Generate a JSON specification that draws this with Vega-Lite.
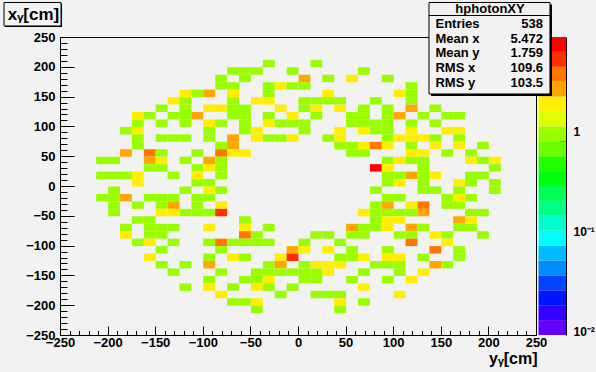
{
"$schema": "https://vega.github.io/schema/vega-lite/v6.json",
"width": 476, "height": 298,
"autosize": {"type": "none"},
"padding": {"left": 60, "top": 37, "right": 60, "bottom": 37},
"background": "#f2f2f2",
"config": {
  "view": {"stroke": "#000000", "strokeWidth": 1},
  "axis": {"labelFont": "Liberation Sans", "labelFontWeight": "bold", "labelFontSize": 13, "labelColor": "#000000", "tickColor": "#000000", "tickWidth": 1, "grid": false, "domain": false, "titleFont": "Liberation Sans", "titleFontWeight": "bold", "titleColor": "#000000", "labelFlush": false, "labelOverlap": false},
  "text": {"font": "Liberation Sans", "fontWeight": "bold", "fontSize": 13, "color": "#000000"}
},
"datasets": {
  "cells": [
    {"x":-37.5,"y":200,"n":1},{"x":12.5,"y":200,"n":1},
    {"x":-75,"y":187.5,"n":1},{"x":-62.5,"y":187.5,"n":1},{"x":-50,"y":187.5,"n":1},{"x":-12.5,"y":187.5,"n":1},{"x":62.5,"y":187.5,"n":1},
    {"x":-87.5,"y":175,"n":1},{"x":-62.5,"y":175,"n":1},{"x":0,"y":175,"n":3},{"x":25,"y":175,"n":1},{"x":50,"y":175,"n":2},{"x":87.5,"y":175,"n":1},
    {"x":-87.5,"y":162.5,"n":1},{"x":-75,"y":162.5,"n":1},{"x":-37.5,"y":162.5,"n":1},{"x":-25,"y":162.5,"n":2},{"x":-12.5,"y":162.5,"n":1},{"x":0,"y":162.5,"n":1},{"x":112.5,"y":162.5,"n":1},
    {"x":-125,"y":150,"n":2},{"x":-112.5,"y":150,"n":1},{"x":-100,"y":150,"n":3},{"x":-75,"y":150,"n":2},{"x":-37.5,"y":150,"n":1},{"x":25,"y":150,"n":2},{"x":100,"y":150,"n":2},{"x":112.5,"y":150,"n":1},
    {"x":-137.5,"y":137.5,"n":2},{"x":-125,"y":137.5,"n":1},{"x":-75,"y":137.5,"n":1},{"x":-50,"y":137.5,"n":2},{"x":-37.5,"y":137.5,"n":2},{"x":0,"y":137.5,"n":1},{"x":12.5,"y":137.5,"n":1},{"x":25,"y":137.5,"n":1},{"x":37.5,"y":137.5,"n":1},{"x":75,"y":137.5,"n":1},{"x":112.5,"y":137.5,"n":1},
    {"x":-150,"y":125,"n":1},{"x":-125,"y":125,"n":1},{"x":-100,"y":125,"n":2},{"x":-87.5,"y":125,"n":2},{"x":-75,"y":125,"n":1},{"x":-62.5,"y":125,"n":1},{"x":-25,"y":125,"n":2},{"x":0,"y":125,"n":1},{"x":12.5,"y":125,"n":2},{"x":37.5,"y":125,"n":2},{"x":62.5,"y":125,"n":1},{"x":87.5,"y":125,"n":1},{"x":112.5,"y":125,"n":3},{"x":137.5,"y":125,"n":1},
    {"x":-175,"y":112.5,"n":2},{"x":-162.5,"y":112.5,"n":1},{"x":-137.5,"y":112.5,"n":1},{"x":-125,"y":112.5,"n":1},{"x":-112.5,"y":112.5,"n":3},{"x":-75,"y":112.5,"n":1},{"x":-62.5,"y":112.5,"n":1},{"x":-37.5,"y":112.5,"n":1},{"x":-12.5,"y":112.5,"n":2},{"x":12.5,"y":112.5,"n":1},{"x":50,"y":112.5,"n":1},{"x":62.5,"y":112.5,"n":1},{"x":87.5,"y":112.5,"n":1},{"x":100,"y":112.5,"n":3},{"x":125,"y":112.5,"n":1},{"x":150,"y":112.5,"n":1},{"x":162.5,"y":112.5,"n":1},
    {"x":-175,"y":100,"n":1},{"x":-150,"y":100,"n":1},{"x":-125,"y":100,"n":1},{"x":-100,"y":100,"n":2},{"x":-87.5,"y":100,"n":1},{"x":-62.5,"y":100,"n":1},{"x":-37.5,"y":100,"n":2},{"x":-25,"y":100,"n":1},{"x":-12.5,"y":100,"n":1},{"x":0,"y":100,"n":1},{"x":50,"y":100,"n":1},{"x":62.5,"y":100,"n":1},{"x":75,"y":100,"n":1},{"x":87.5,"y":100,"n":1},{"x":112.5,"y":100,"n":1},{"x":137.5,"y":100,"n":1},
    {"x":-187.5,"y":87.5,"n":1},{"x":-175,"y":87.5,"n":2},{"x":-100,"y":87.5,"n":1},{"x":-62.5,"y":87.5,"n":1},{"x":-50,"y":87.5,"n":2},{"x":0,"y":87.5,"n":1},{"x":37.5,"y":87.5,"n":2},{"x":62.5,"y":87.5,"n":2},{"x":75,"y":87.5,"n":1},{"x":87.5,"y":87.5,"n":1},{"x":112.5,"y":87.5,"n":2},{"x":150,"y":87.5,"n":2},{"x":162.5,"y":87.5,"n":2},
    {"x":-175,"y":75,"n":1},{"x":-150,"y":75,"n":1},{"x":-137.5,"y":75,"n":1},{"x":-125,"y":75,"n":1},{"x":-100,"y":75,"n":1},{"x":-75,"y":75,"n":3},{"x":-50,"y":75,"n":2},{"x":-37.5,"y":75,"n":1},{"x":-25,"y":75,"n":1},{"x":-12.5,"y":75,"n":2},{"x":25,"y":75,"n":1},{"x":37.5,"y":75,"n":2},{"x":87.5,"y":75,"n":1},{"x":100,"y":75,"n":2},{"x":112.5,"y":75,"n":2},{"x":125,"y":75,"n":2},{"x":137.5,"y":75,"n":1},{"x":162.5,"y":75,"n":1},
    {"x":-175,"y":62.5,"n":1},{"x":-87.5,"y":62.5,"n":1},{"x":-75,"y":62.5,"n":3},{"x":37.5,"y":62.5,"n":1},{"x":50,"y":62.5,"n":1},{"x":62.5,"y":62.5,"n":2},{"x":75,"y":62.5,"n":4},{"x":87.5,"y":62.5,"n":2},{"x":112.5,"y":62.5,"n":1},{"x":137.5,"y":62.5,"n":2},{"x":162.5,"y":62.5,"n":2},{"x":187.5,"y":62.5,"n":1},
    {"x":-187.5,"y":50,"n":3},{"x":-162.5,"y":50,"n":4},{"x":-150,"y":50,"n":1},{"x":-112.5,"y":50,"n":1},{"x":-87.5,"y":50,"n":4},{"x":-75,"y":50,"n":2},{"x":-62.5,"y":50,"n":2},{"x":50,"y":50,"n":1},{"x":62.5,"y":50,"n":1},{"x":112.5,"y":50,"n":2},{"x":125,"y":50,"n":2},{"x":150,"y":50,"n":1},{"x":175,"y":50,"n":1},
    {"x":-212.5,"y":37.5,"n":1},{"x":-200,"y":37.5,"n":1},{"x":-162.5,"y":37.5,"n":3},{"x":-150,"y":37.5,"n":2},{"x":-125,"y":37.5,"n":1},{"x":-100,"y":37.5,"n":3},{"x":-87.5,"y":37.5,"n":1},{"x":87.5,"y":37.5,"n":1},{"x":100,"y":37.5,"n":2},{"x":112.5,"y":37.5,"n":1},{"x":125,"y":37.5,"n":1},{"x":175,"y":37.5,"n":2},{"x":187.5,"y":37.5,"n":1},{"x":200,"y":37.5,"n":2},
    {"x":-162.5,"y":25,"n":1},{"x":-150,"y":25,"n":1},{"x":-112.5,"y":25,"n":1},{"x":-100,"y":25,"n":2},{"x":-87.5,"y":25,"n":1},{"x":75,"y":25,"n":7},{"x":87.5,"y":25,"n":2},{"x":125,"y":25,"n":1},{"x":200,"y":25,"n":1},
    {"x":-212.5,"y":12.5,"n":1},{"x":-200,"y":12.5,"n":1},{"x":-187.5,"y":12.5,"n":1},{"x":-175,"y":12.5,"n":2},{"x":-137.5,"y":12.5,"n":1},{"x":-112.5,"y":12.5,"n":2},{"x":-87.5,"y":12.5,"n":1},{"x":87.5,"y":12.5,"n":1},{"x":100,"y":12.5,"n":1},{"x":112.5,"y":12.5,"n":3},{"x":125,"y":12.5,"n":1},{"x":137.5,"y":12.5,"n":2},{"x":175,"y":12.5,"n":1},{"x":187.5,"y":12.5,"n":1},
    {"x":-175,"y":0,"n":2},{"x":-112.5,"y":0,"n":1},{"x":-100,"y":0,"n":1},{"x":87.5,"y":0,"n":1},{"x":100,"y":0,"n":2},{"x":125,"y":0,"n":1},{"x":162.5,"y":0,"n":2},{"x":175,"y":0,"n":1},{"x":200,"y":0,"n":1},
    {"x":-200,"y":-12.5,"n":1},{"x":-125,"y":-12.5,"n":1},{"x":-100,"y":-12.5,"n":2},{"x":-87.5,"y":-12.5,"n":1},{"x":75,"y":-12.5,"n":1},{"x":125,"y":-12.5,"n":1},{"x":137.5,"y":-12.5,"n":1},{"x":162.5,"y":-12.5,"n":1},{"x":200,"y":-12.5,"n":1},
    {"x":-212.5,"y":-25,"n":1},{"x":-200,"y":-25,"n":1},{"x":-187.5,"y":-25,"n":3},{"x":-162.5,"y":-25,"n":1},{"x":-150,"y":-25,"n":1},{"x":-137.5,"y":-25,"n":1},{"x":-112.5,"y":-25,"n":1},{"x":-100,"y":-25,"n":1},{"x":87.5,"y":-25,"n":1},{"x":100,"y":-25,"n":1},{"x":150,"y":-25,"n":1},{"x":162.5,"y":-25,"n":2},{"x":175,"y":-25,"n":1},
    {"x":-200,"y":-37.5,"n":1},{"x":-175,"y":-37.5,"n":1},{"x":-150,"y":-37.5,"n":1},{"x":-137.5,"y":-37.5,"n":3},{"x":-112.5,"y":-37.5,"n":1},{"x":-87.5,"y":-37.5,"n":2},{"x":75,"y":-37.5,"n":1},{"x":87.5,"y":-37.5,"n":3},{"x":112.5,"y":-37.5,"n":2},{"x":125,"y":-37.5,"n":4},{"x":150,"y":-37.5,"n":1},{"x":162.5,"y":-37.5,"n":1},
    {"x":-200,"y":-50,"n":1},{"x":-150,"y":-50,"n":2},{"x":-137.5,"y":-50,"n":2},{"x":-125,"y":-50,"n":1},{"x":-112.5,"y":-50,"n":1},{"x":-100,"y":-50,"n":1},{"x":-87.5,"y":-50,"n":5},{"x":62.5,"y":-50,"n":2},{"x":75,"y":-50,"n":1},{"x":87.5,"y":-50,"n":1},{"x":100,"y":-50,"n":1},{"x":112.5,"y":-50,"n":1},{"x":125,"y":-50,"n":3},{"x":175,"y":-50,"n":1},{"x":187.5,"y":-50,"n":1},
    {"x":-175,"y":-62.5,"n":1},{"x":-162.5,"y":-62.5,"n":1},{"x":-62.5,"y":-62.5,"n":1},{"x":75,"y":-62.5,"n":1},{"x":87.5,"y":-62.5,"n":2},{"x":100,"y":-62.5,"n":2},{"x":162.5,"y":-62.5,"n":3},{"x":175,"y":-62.5,"n":2},
    {"x":-187.5,"y":-75,"n":1},{"x":-162.5,"y":-75,"n":1},{"x":-150,"y":-75,"n":1},{"x":-137.5,"y":-75,"n":1},{"x":-100,"y":-75,"n":2},{"x":-62.5,"y":-75,"n":2},{"x":-37.5,"y":-75,"n":1},{"x":50,"y":-75,"n":3},{"x":62.5,"y":-75,"n":1},{"x":75,"y":-75,"n":1},{"x":87.5,"y":-75,"n":2},{"x":112.5,"y":-75,"n":3},{"x":125,"y":-75,"n":1},{"x":162.5,"y":-75,"n":1},{"x":175,"y":-75,"n":1},
    {"x":-187.5,"y":-87.5,"n":2},{"x":-162.5,"y":-87.5,"n":1},{"x":-150,"y":-87.5,"n":1},{"x":-62.5,"y":-87.5,"n":4},{"x":-50,"y":-87.5,"n":1},{"x":12.5,"y":-87.5,"n":1},{"x":25,"y":-87.5,"n":1},{"x":50,"y":-87.5,"n":1},{"x":62.5,"y":-87.5,"n":1},{"x":100,"y":-87.5,"n":1},{"x":112.5,"y":-87.5,"n":1},{"x":137.5,"y":-87.5,"n":2},{"x":150,"y":-87.5,"n":1},{"x":187.5,"y":-87.5,"n":1},
    {"x":-175,"y":-100,"n":1},{"x":-162.5,"y":-100,"n":2},{"x":-137.5,"y":-100,"n":1},{"x":-100,"y":-100,"n":1},{"x":-87.5,"y":-100,"n":4},{"x":-75,"y":-100,"n":1},{"x":-62.5,"y":-100,"n":1},{"x":-50,"y":-100,"n":1},{"x":-37.5,"y":-100,"n":1},{"x":0,"y":-100,"n":1},{"x":37.5,"y":-100,"n":1},{"x":112.5,"y":-100,"n":4},{"x":150,"y":-100,"n":2},
    {"x":-150,"y":-112.5,"n":1},{"x":-87.5,"y":-112.5,"n":1},{"x":-12.5,"y":-112.5,"n":3},{"x":0,"y":-112.5,"n":2},{"x":25,"y":-112.5,"n":2},{"x":50,"y":-112.5,"n":1},{"x":87.5,"y":-112.5,"n":1},{"x":137.5,"y":-112.5,"n":4},{"x":162.5,"y":-112.5,"n":1},
    {"x":-162.5,"y":-125,"n":2},{"x":-100,"y":-125,"n":1},{"x":-75,"y":-125,"n":2},{"x":-62.5,"y":-125,"n":1},{"x":-25,"y":-125,"n":2},{"x":-12.5,"y":-125,"n":5},{"x":37.5,"y":-125,"n":1},{"x":50,"y":-125,"n":1},{"x":62.5,"y":-125,"n":2},{"x":87.5,"y":-125,"n":2},{"x":100,"y":-125,"n":2},{"x":125,"y":-125,"n":1},{"x":162.5,"y":-125,"n":1},
    {"x":-150,"y":-137.5,"n":1},{"x":-125,"y":-137.5,"n":1},{"x":-100,"y":-137.5,"n":3},{"x":-37.5,"y":-137.5,"n":1},{"x":-25,"y":-137.5,"n":3},{"x":0,"y":-137.5,"n":1},{"x":12.5,"y":-137.5,"n":2},{"x":25,"y":-137.5,"n":2},{"x":37.5,"y":-137.5,"n":2},{"x":75,"y":-137.5,"n":1},{"x":87.5,"y":-137.5,"n":1},{"x":100,"y":-137.5,"n":1},{"x":137.5,"y":-137.5,"n":3},{"x":150,"y":-137.5,"n":1},
    {"x":-137.5,"y":-150,"n":1},{"x":-87.5,"y":-150,"n":1},{"x":-50,"y":-150,"n":1},{"x":-37.5,"y":-150,"n":1},{"x":-25,"y":-150,"n":1},{"x":-12.5,"y":-150,"n":1},{"x":0,"y":-150,"n":1},{"x":12.5,"y":-150,"n":1},{"x":25,"y":-150,"n":2},{"x":62.5,"y":-150,"n":1},{"x":100,"y":-150,"n":1},{"x":125,"y":-150,"n":2},
    {"x":-100,"y":-162.5,"n":1},{"x":-62.5,"y":-162.5,"n":1},{"x":-50,"y":-162.5,"n":1},{"x":-37.5,"y":-162.5,"n":2},{"x":0,"y":-162.5,"n":1},{"x":12.5,"y":-162.5,"n":1},{"x":50,"y":-162.5,"n":1},{"x":87.5,"y":-162.5,"n":1},{"x":112.5,"y":-162.5,"n":2},
    {"x":-125,"y":-175,"n":1},{"x":-100,"y":-175,"n":2},{"x":-75,"y":-175,"n":1},{"x":-50,"y":-175,"n":2},{"x":-37.5,"y":-175,"n":1},{"x":-12.5,"y":-175,"n":1},{"x":62.5,"y":-175,"n":2},
    {"x":-87.5,"y":-187.5,"n":2},{"x":-25,"y":-187.5,"n":1},{"x":12.5,"y":-187.5,"n":1},{"x":25,"y":-187.5,"n":1},{"x":37.5,"y":-187.5,"n":1},{"x":100,"y":-187.5,"n":2},
    {"x":-75,"y":-200,"n":1},{"x":-62.5,"y":-200,"n":1},{"x":-50,"y":-200,"n":2},{"x":37.5,"y":-200,"n":2},{"x":62.5,"y":-200,"n":1},
    {"x":-50,"y":-212.5,"n":1},{"x":37.5,"y":-212.5,"n":1}
  ],
  "palette": [
    {"lo":0.0093325,"hi":0.013144},{"lo":0.013144,"hi":0.018513},{"lo":0.018513,"hi":0.026075},{"lo":0.026075,"hi":0.036728},
    {"lo":0.036728,"hi":0.051724},{"lo":0.051724,"hi":0.072862},{"lo":0.072862,"hi":0.10262},{"lo":0.10262,"hi":0.14454},
    {"lo":0.14454,"hi":0.20355},{"lo":0.20355,"hi":0.28675},{"lo":0.28675,"hi":0.40389},{"lo":0.40389,"hi":0.56885},
    {"lo":0.56885,"hi":0.80122},{"lo":0.80122,"hi":1.1286},{"lo":1.1286,"hi":1.5895},{"lo":1.5895,"hi":2.2387},
    {"lo":2.2387,"hi":3.1532},{"lo":3.1532,"hi":4.4412},{"lo":4.4412,"hi":6.2551},{"lo":6.2551,"hi":8.8105}
  ],
  "stats": [
    {"k": "Entries", "v": "538"},
    {"k": "Mean x", "v": "5.472"},
    {"k": "Mean y", "v": "1.759"},
    {"k": "RMS x", "v": "109.6"},
    {"k": "RMS y", "v": "103.5"}
  ],
  "statTitle": [{"k": "hphotonXY"}]
},
"layer": [
  {
    "layer": [
      {
        "data": {"name": "cells"},
        "mark": {"type": "rect", "binSpacing": 0},
        "encoding": {
          "x": {"field": "x", "type": "quantitative", "bin": {"binned": true, "step": 12.5},
                "scale": {"domain": [-250, 250], "nice": false, "zero": false},
                "axis": {"orient": "bottom", "values": [-250,-200,-150,-100,-50,0,50,100,150,200,250], "ticks": false, "labelPadding": 1,
                         "title": "yᵧ[cm]", "titleFontSize": 16, "titleX": 477, "titleY": 23, "titleAlign": "right", "titleBaseline": "middle"}},
          "y": {"field": "y", "type": "quantitative", "bin": {"binned": true, "step": 12.5},
                "scale": {"domain": [-250, 250], "nice": false, "zero": false},
                "axis": {"orient": "left", "values": [-250,-200,-150,-100,-50,0,50,100,150,200,250], "ticks": false, "labelPadding": 5,
                         "title": "xᵧ[cm]", "titleFontSize": 17, "titleAngle": 0, "titleX": -27, "titleY": -23, "titleAlign": "center", "titleBaseline": "middle"}},
          "color": {"field": "n", "type": "quantitative",
                    "scale": {"type": "threshold",
                              "domain": [0.013144,0.018513,0.026075,0.036728,0.051724,0.072862,0.10262,0.14454,0.20355,0.28675,0.40389,0.56885,0.80122,1.1286,1.5895,2.2387,3.1532,4.4412,6.2551],
                              "range": ["#6300ff","#3300ff","#0014ff","#0044ff","#008bff","#00bbff","#00fffc","#00ffcc","#00ff85","#00ff55","#00ff0e","#22ff00","#69ff00","#99ff00","#e0ff00","#ffee00","#ffa700","#ff7700","#ff3000","#ff0000"]},
                    "legend": null}
        }
      },
      {
        "data": {"name": "cells"},
        "mark": {"type": "point", "opacity": 0},
        "encoding": {
          "x": {"field": "x", "type": "quantitative", "scale": {"domain": [-250, 250], "nice": false, "zero": false},
                "axis": {"orient": "bottom", "values": [-250,-240,-230,-220,-210,-200,-190,-180,-170,-160,-150,-140,-130,-120,-110,-100,-90,-80,-70,-60,-50,-40,-30,-20,-10,0,10,20,30,40,50,60,70,80,90,100,110,120,130,140,150,160,170,180,190,200,210,220,230,240,250],
                         "labels": false, "title": null, "tickSize": 4.5, "offset": -4.5}},
          "y": {"field": "y", "type": "quantitative", "scale": {"domain": [-250, 250], "nice": false, "zero": false},
                "axis": {"orient": "left", "values": [-250,-240,-230,-220,-210,-200,-190,-180,-170,-160,-150,-140,-130,-120,-110,-100,-90,-80,-70,-60,-50,-40,-30,-20,-10,0,10,20,30,40,50,60,70,80,90,100,110,120,130,140,150,160,170,180,190,200,210,220,230,240,250],
                         "labels": false, "title": null, "tickSize": 7, "offset": -7}}
        }
      },
      {
        "data": {"name": "cells"},
        "mark": {"type": "point", "opacity": 0},
        "encoding": {
          "x": {"field": "x", "type": "quantitative", "scale": {"domain": [-250, 250], "nice": false, "zero": false},
                "axis": {"orient": "bottom", "values": [-250,-200,-150,-100,-50,0,50,100,150,200,250], "labels": false, "title": null, "tickSize": 9, "offset": -9}},
          "y": {"field": "y", "type": "quantitative", "scale": {"domain": [-250, 250], "nice": false, "zero": false},
                "axis": {"orient": "left", "values": [-250,-200,-150,-100,-50,0,50,100,150,200,250], "labels": false, "title": null, "tickSize": 14, "offset": -14}}
        }
      }
    ],
    "resolve": {"axis": {"x": "independent", "y": "independent"}}
  },
  {
    "layer": [
      {
        "data": {"name": "palette"},
        "mark": {"type": "rect"},
        "encoding": {
          "x": {"datum": 252.6, "type": "quantitative", "scale": {"domain": [-250, 250], "nice": false, "zero": false}, "axis": null},
          "x2": {"datum": 281.5},
          "y": {"field": "lo", "type": "quantitative", "scale": {"type": "log", "domain": [0.0093325, 8.8105], "nice": false},
                "axis": {"orient": "right", "offset": 30, "values": [0.01, 0.1, 1], "ticks": false, "domain": true, "domainColor": "#000000", "domainWidth": 1,
                         "labelExpr": "datum.value > 0.5 ? '1' : (datum.value > 0.05 ? '10⁻¹' : '10⁻²')",
                         "labelPadding": 7, "labelFontSize": 12, "labelBaseline": "middle", "title": null}},
          "y2": {"field": "hi"},
          "color": {"field": "lo", "type": "quantitative",
                    "scale": {"type": "threshold",
                              "domain": [0.013144,0.018513,0.026075,0.036728,0.051724,0.072862,0.10262,0.14454,0.20355,0.28675,0.40389,0.56885,0.80122,1.1286,1.5895,2.2387,3.1532,4.4412,6.2551],
                              "range": ["#6300ff","#3300ff","#0014ff","#0044ff","#008bff","#00bbff","#00fffc","#00ffcc","#00ff85","#00ff55","#00ff0e","#22ff00","#69ff00","#99ff00","#e0ff00","#ffee00","#ffa700","#ff7700","#ff3000","#ff0000"]},
                    "legend": null}
        }
      },
      {
        "data": {"name": "palette"},
        "mark": {"type": "point", "opacity": 0},
        "encoding": {
          "x": {"datum": 266, "type": "quantitative", "scale": {"domain": [-250, 250], "nice": false, "zero": false}, "axis": null},
          "y": {"field": "lo", "type": "quantitative", "scale": {"type": "log", "domain": [0.0093325, 8.8105], "nice": false},
                "axis": {"orient": "right", "offset": 23, "values": [0.02,0.03,0.04,0.05,0.06,0.07,0.08,0.09,0.2,0.3,0.4,0.5,0.6,0.7,0.8,0.9,2,3,4,5,6,7,8],
                         "labels": false, "domain": false, "tickSize": 7, "title": null}}
        }
      },
      {
        "data": {"name": "palette"},
        "mark": {"type": "point", "opacity": 0},
        "encoding": {
          "x": {"datum": 266, "type": "quantitative", "scale": {"domain": [-250, 250], "nice": false, "zero": false}, "axis": null},
          "y": {"field": "lo", "type": "quantitative", "scale": {"type": "log", "domain": [0.0093325, 8.8105], "nice": false},
                "axis": {"orient": "right", "offset": 15, "values": [0.01, 0.1, 1],
                         "labels": false, "domain": false, "tickSize": 15, "title": null}}
        }
      }
    ],
    "resolve": {"axis": {"y": "independent"}}
  },
  {
    "layer": [
      {
        "data": {"values": [{}]},
        "mark": {"type": "rect", "fill": "#000000", "xOffset": 2, "x2Offset": 2, "yOffset": 2, "y2Offset": 2},
        "encoding": {
          "x": {"datum": 137.6, "type": "quantitative", "scale": {"domain": [-250, 250], "nice": false, "zero": false}, "axis": null},
          "x2": {"datum": 264.7},
          "y": {"datum": 307.9, "type": "quantitative", "scale": {"domain": [-250, 250], "nice": false, "zero": false}, "axis": null},
          "y2": {"datum": 154.4}
        }
      },
      {
        "data": {"values": [{}]},
        "mark": {"type": "rect", "fill": "#f2f2f2", "stroke": "#000000", "strokeWidth": 1},
        "encoding": {
          "x": {"datum": 137.6, "type": "quantitative", "scale": {"domain": [-250, 250], "nice": false, "zero": false}, "axis": null},
          "x2": {"datum": 264.7},
          "y": {"datum": 307.9, "type": "quantitative", "scale": {"domain": [-250, 250], "nice": false, "zero": false}, "axis": null},
          "y2": {"datum": 154.4}
        }
      },
      {
        "data": {"values": [{}]},
        "mark": {"type": "rule", "color": "#000000", "strokeWidth": 1},
        "encoding": {
          "x": {"datum": 137.6, "type": "quantitative", "scale": {"domain": [-250, 250], "nice": false, "zero": false}, "axis": null},
          "x2": {"datum": 264.7},
          "y": {"datum": 286.1, "type": "quantitative", "scale": {"domain": [-250, 250], "nice": false, "zero": false}, "axis": null}
        }
      },
      {
        "data": {"values": [{}]},
        "mark": {"type": "rect", "fill": "#000000", "xOffset": 1, "x2Offset": 1, "yOffset": 1, "y2Offset": 1},
        "encoding": {
          "x": {"datum": -308.8, "type": "quantitative", "scale": {"domain": [-250, 250], "nice": false, "zero": false}, "axis": null},
          "x2": {"datum": -248.9},
          "y": {"datum": 307.9, "type": "quantitative", "scale": {"domain": [-250, 250], "nice": false, "zero": false}, "axis": null},
          "y2": {"datum": 268.5}
        }
      },
      {
        "data": {"values": [{}]},
        "mark": {"type": "rect", "fill": "#f2f2f2", "stroke": "#000000", "strokeWidth": 1},
        "encoding": {
          "x": {"datum": -308.8, "type": "quantitative", "scale": {"domain": [-250, 250], "nice": false, "zero": false}, "axis": null},
          "x2": {"datum": -248.9},
          "y": {"datum": 307.9, "type": "quantitative", "scale": {"domain": [-250, 250], "nice": false, "zero": false}, "axis": null},
          "y2": {"datum": 268.5}
        }
      }
    ]
  },
  {
    "layer": [
      {
        "data": {"name": "statTitle"},
        "mark": {"type": "text", "align": "center", "baseline": "middle"},
        "encoding": {
          "x": {"datum": 201.7, "type": "quantitative", "scale": {"domain": [-250, 250], "nice": false, "zero": false}, "axis": null},
          "y": {"field": "k", "type": "nominal", "scale": {"type": "point", "domain": ["hphotonXY", "Entries", "Mean x", "Mean y", "RMS x", "RMS y"], "range": [-28, 46], "padding": 0}, "axis": null},
          "text": {"field": "k"}
        }
      },
      {
        "data": {"name": "stats"},
        "mark": {"type": "text", "align": "left", "baseline": "middle"},
        "encoding": {
          "x": {"datum": 144.4, "type": "quantitative", "scale": {"domain": [-250, 250], "nice": false, "zero": false}, "axis": null},
          "y": {"field": "k", "type": "nominal", "scale": {"type": "point", "domain": ["hphotonXY", "Entries", "Mean x", "Mean y", "RMS x", "RMS y"], "range": [-28, 46], "padding": 0}, "axis": null},
          "text": {"field": "k"}
        }
      },
      {
        "data": {"name": "stats"},
        "mark": {"type": "text", "align": "right", "baseline": "middle"},
        "encoding": {
          "x": {"datum": 257.4, "type": "quantitative", "scale": {"domain": [-250, 250], "nice": false, "zero": false}, "axis": null},
          "y": {"field": "k", "type": "nominal", "scale": {"type": "point", "domain": ["hphotonXY", "Entries", "Mean x", "Mean y", "RMS x", "RMS y"], "range": [-28, 46], "padding": 0}, "axis": null},
          "text": {"field": "v"}
        }
      }
    ]
  }
],
"resolve": {"scale": {"x": "independent", "y": "independent"}}
}
